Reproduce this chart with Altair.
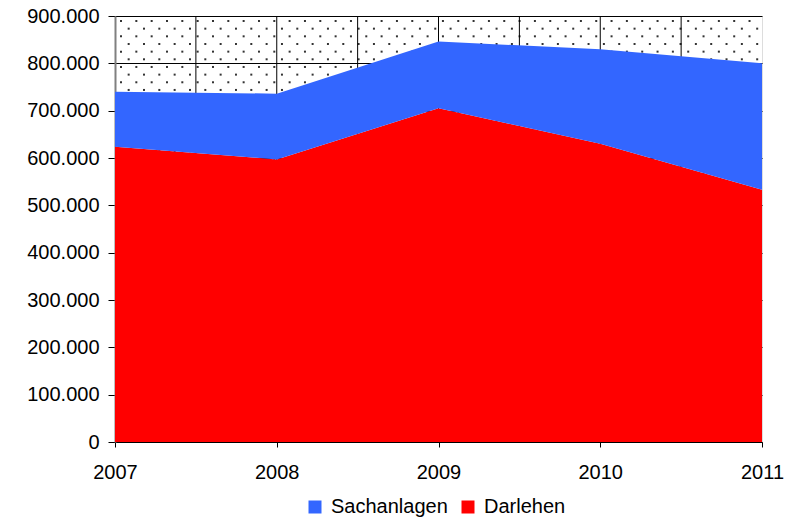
import altair as alt
import pandas as pd

years = [2007, 2008, 2009, 2010, 2011]
darlehen = [624000, 597000, 705000, 630000, 533000]
sachanlagen = [116000, 139000, 141000, 200000, 267000]
series = ["Sachanlagen", "Darlehen"]
colors = ["#3366FF", "#FF0000"]
grid_years = [2007.5, 2008, 2008.5, 2009, 2009.5, 2010, 2010.5]
y_ticks = [0, 100000, 200000, 300000, 400000, 500000, 600000, 700000, 800000, 900000]

rows = []
for i, yr in enumerate(years):
    rows.append({"Jahr": yr, "Reihe": "Darlehen", "Wert": darlehen[i], "ord": 0})
    rows.append({"Jahr": yr, "Reihe": "Sachanlagen", "Wert": sachanlagen[i], "ord": 1})
df = pd.DataFrame(rows)
gdf = pd.DataFrame({"g": grid_years})

FONT = "Liberation Sans, Arial, sans-serif"
W, H = 647, 426

xscale = alt.Scale(domain=[2007, 2011], nice=False, zero=False)
yscale = alt.Scale(domain=[0, 900000], nice=False)

# dotted background texture (decorative pattern)
dots = (
    alt.Chart(alt.sequence(0, 43 * 57, as_="n"))
    .transform_calculate(col="datum.n % 43", row="floor(datum.n / 43)")
    .transform_calculate(
        xp="6 + datum.col * 15.33 + (datum.row % 2) * 7.66",
        yp="5 + datum.row * 7.66",
    )
    .transform_calculate(
        Jahr="2007 + datum.xp * 4 / %d" % W,
        Wert="900000 - datum.yp * 900000 / %d" % H,
    )
    .transform_filter("datum.Jahr <= 2011 && datum.Wert >= 0")
    .mark_square(size=4, color="#333333", opacity=1)
    .encode(x=alt.X("Jahr:Q", scale=xscale), y=alt.Y("Wert:Q", scale=yscale))
)

vgrid = (
    alt.Chart(gdf)
    .mark_rule(color="#000000", strokeWidth=1)
    .encode(x=alt.X("g:Q", scale=xscale))
)

areas = (
    alt.Chart(df)
    .mark_area(opacity=1)
    .encode(
        x=alt.X(
            "Jahr:Q",
            scale=xscale,
            title=None,
            axis=alt.Axis(
                values=years,
                format="d",
                grid=False,
                labelFont=FONT,
                labelFontSize=20,
                labelColor="#000000",
                labelPadding=15,
                tickSize=5,
                tickColor="#000000",
                domainColor="#000000",
                domainWidth=1,
                labelFlush=False,
            ),
        ),
        y=alt.Y(
            "Wert:Q",
            stack="zero",
            scale=yscale,
            title=None,
            axis=alt.Axis(
                values=y_ticks,
                labelExpr="replace(format(datum.value, ','), ',', '.')",
                grid=True,
                gridColor="#000000",
                gridWidth=1,
                labelFont=FONT,
                labelFontSize=20,
                labelColor="#000000",
                labelPadding=9,
                tickSize=7,
                tickColor="#000000",
                domainColor="#808080",
                domainWidth=2,
            ),
        ),
        color=alt.Color(
            "Reihe:N",
            scale=alt.Scale(domain=series, range=colors),
            legend=alt.Legend(
                title=None,
                orient="none",
                legendX=190,
                legendY=481,
                direction="horizontal",
                symbolType="square",
                symbolSize=169,
                symbolStrokeWidth=0,
                symbolOpacity=1,
                labelFont=FONT,
                labelFontSize=20,
                labelColor="#000000",
                labelOffset=6,
                columnPadding=10,
            ),
        ),
        order=alt.Order("ord:Q"),
    )
)

chart = (
    alt.layer(dots, vgrid, areas)
    .properties(
        width=W,
        height=H,
        autosize=alt.AutoSizeParams(type="none"),
        padding={"left": 107, "top": 8, "right": 39, "bottom": 80},
    )
    .configure_view(stroke="#808080", strokeWidth=2)
    .configure(background="white")
)

chart.save("out.html", embed_options={"renderer": "svg", "actions": False})
